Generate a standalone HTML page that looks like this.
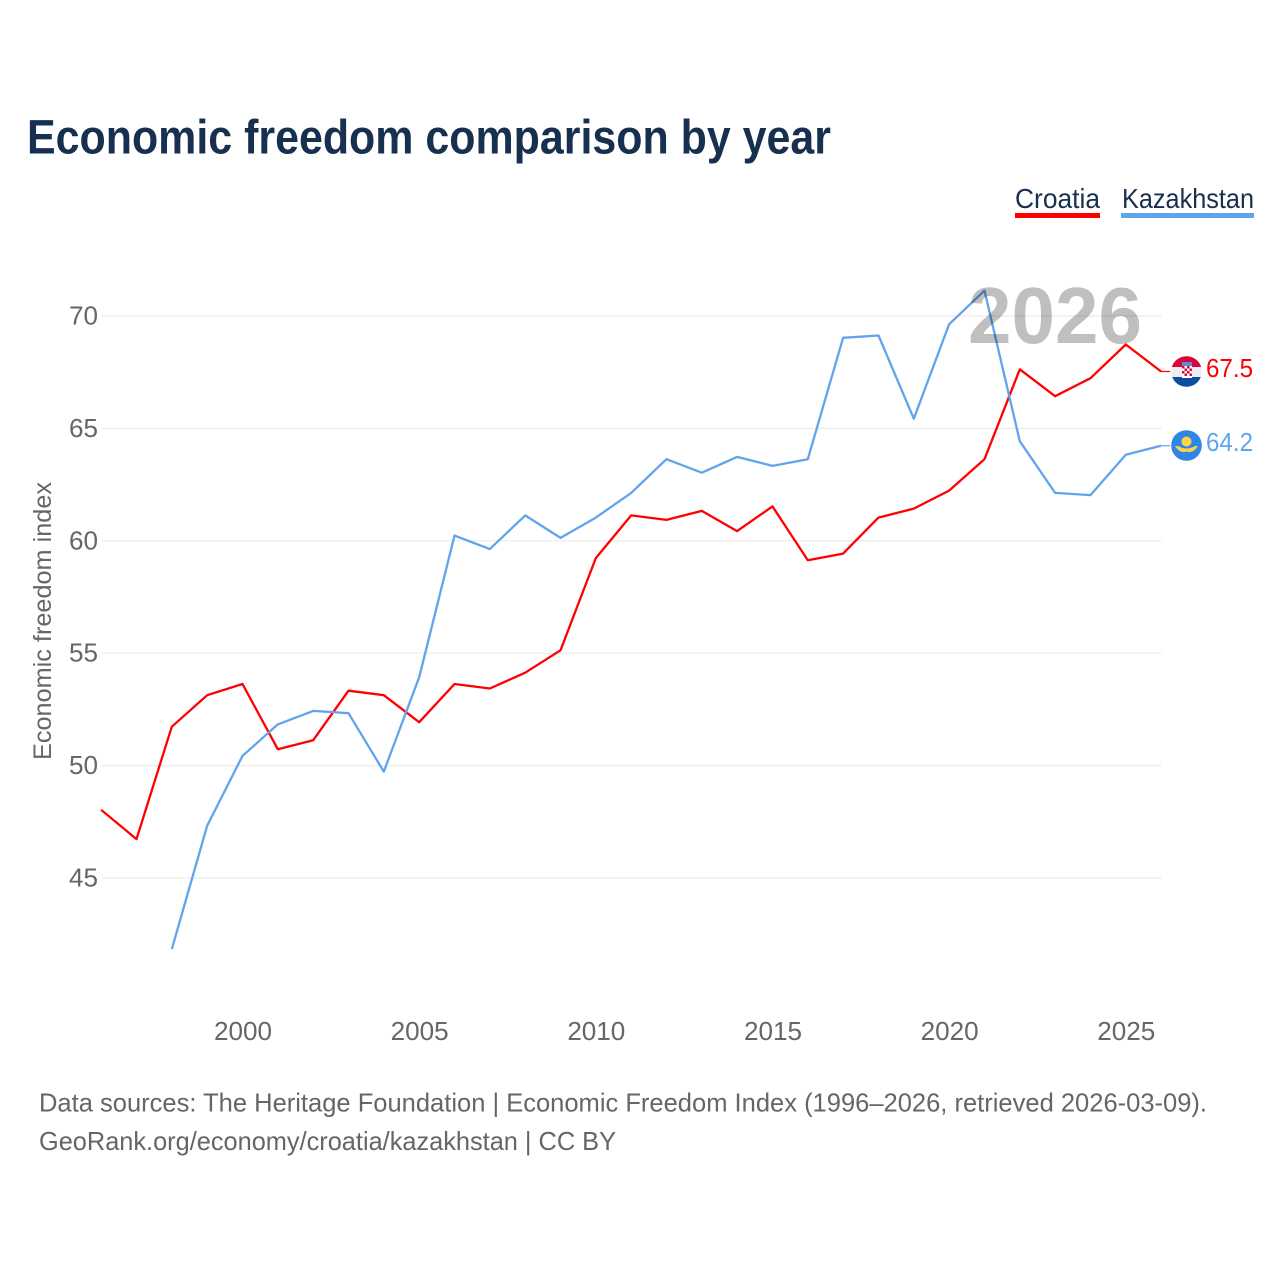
<!DOCTYPE html>
<html lang="en">
<head>
<meta charset="utf-8">
<title>Economic freedom comparison by year</title>
<style>
html,body{margin:0;padding:0;background:#fff;}
svg{display:block;}
text{font-family:"Liberation Sans",sans-serif;}
</style>
</head>
<body>
<svg id="chart" xmlns="http://www.w3.org/2000/svg" width="1280" height="1280" viewBox="0 0 1280 1280">
  <rect x="0" y="0" width="1280" height="1280" fill="#ffffff"/>
  <text x="27" y="153.5" font-size="48" font-weight="700" fill="#18304f" textLength="804" lengthAdjust="spacingAndGlyphs">Economic freedom comparison by year</text>

  <g>
    <text x="1015" y="208" font-size="28" fill="#18304f" textLength="85" lengthAdjust="spacingAndGlyphs">Croatia</text>
    <rect x="1015" y="213" width="85" height="5" fill="#ff0000"/>
  </g>
  <g>
    <text x="1122" y="208" font-size="28" fill="#18304f" textLength="132" lengthAdjust="spacingAndGlyphs">Kazakhstan</text>
    <rect x="1121" y="213" width="133" height="5" fill="#60a5ec"/>
  </g>

  <g id="grid"></g>
  <g id="yticks"></g>
  <g id="xticks"></g>
  <text transform="translate(51,621) rotate(-90)" text-anchor="middle" font-size="25" fill="#666666" textLength="278" lengthAdjust="spacingAndGlyphs">Economic freedom index</text>
  <g id="series" transform="translate(-0.5,-0.7)"></g>
  <text x="968" y="343" font-size="80" font-weight="700" fill="#000000" fill-opacity="0.25" textLength="174" lengthAdjust="spacingAndGlyphs">2026</text>

  <g>
    <clipPath id="clip-hr"><circle cx="1186.5" cy="371.5" r="15.3"/></clipPath>
    <g clip-path="url(#clip-hr)">
      <rect x="1171" y="356" width="31" height="11" fill="#d9043a"/>
      <rect x="1171" y="367" width="31" height="10" fill="#eeeeee"/>
      <rect x="1171" y="377" width="31" height="11" fill="#0b4ea2"/>
      <rect x="1182" y="366" width="10" height="12" fill="#ffffff"/>
      <rect x="1182" y="366" width="2.5" height="2.5" fill="#d9043a"/>
      <rect x="1187" y="366" width="2.5" height="2.5" fill="#d9043a"/>
      <rect x="1184.5" y="368.5" width="2.5" height="2.5" fill="#d9043a"/>
      <rect x="1189.5" y="368.5" width="2.5" height="2.5" fill="#d9043a"/>
      <rect x="1182" y="371" width="2.5" height="2.5" fill="#d9043a"/>
      <rect x="1187" y="371" width="2.5" height="2.5" fill="#d9043a"/>
      <rect x="1184.5" y="373.5" width="2.5" height="2.5" fill="#d9043a"/>
      <rect x="1189.5" y="373.5" width="2.5" height="2.5" fill="#d9043a"/>
      <rect x="1182" y="362" width="10" height="4" fill="#5b8fd0"/>
    </g>
  </g>
  <g>
    <circle cx="1186.5" cy="445.5" r="15.3" fill="#2f86e6"/>
    <circle cx="1186.5" cy="441.5" r="5" fill="#ffd24a"/>
    <path d="M1178 446 Q1186.5 451 1195 446 L1198 446 Q1193 454 1186.5 451.5 Q1180 454 1175 446 Z" fill="#ffd24a"/>
  </g>

  <text id="end-label-croatia" x="1206" y="377" font-size="26" fill="#ff0000" textLength="47" lengthAdjust="spacingAndGlyphs"></text>
  <text id="end-label-kazakhstan" x="1206" y="451" font-size="26" fill="#60a5ec" textLength="47" lengthAdjust="spacingAndGlyphs"></text>

  <text x="39" y="1111.5" font-size="26" fill="#666666" textLength="1168" lengthAdjust="spacingAndGlyphs">Data sources: The Heritage Foundation | Economic Freedom Index (1996–2026, retrieved 2026-03-09).</text>
  <text x="39" y="1150" font-size="26" fill="#666666" textLength="577" lengthAdjust="spacingAndGlyphs">GeoRank.org/economy/croatia/kazakhstan | CC BY</text>
</svg>
<script>
const years = [1996,1997,1998,1999,2000,2001,2002,2003,2004,2005,2006,2007,2008,2009,2010,2011,2012,2013,2014,2015,2016,2017,2018,2019,2020,2021,2022,2023,2024,2025,2026];
const croatia = [48.0,46.7,51.7,53.1,53.6,50.7,51.1,53.3,53.1,51.9,53.6,53.4,54.1,55.1,59.2,61.1,60.9,61.3,60.4,61.5,59.1,59.4,61.0,61.4,62.2,63.6,67.6,66.4,67.2,68.7,67.5];
const kazakhstan = [null,null,41.8,47.3,50.4,51.8,52.4,52.3,49.7,53.9,60.2,59.6,61.1,60.1,61.0,62.1,63.6,63.0,63.7,63.3,63.6,69.0,69.1,65.4,69.6,71.1,64.4,62.1,62.0,63.8,64.2];
const yTickValues = [45,50,55,60,65,70];
const xTickValues = [2000,2005,2010,2015,2020,2025];

const NS = 'http://www.w3.org/2000/svg';
function xScale(year){ return 243 + (year - 2000) * (1126.3 - 243) / 25; }
function yScale(value){ return 878 + (value - 45) * (316 - 878) / 25; }
function make(tag, parent){
  const el = document.createElementNS(NS, tag);
  parent.appendChild(el);
  return el;
}

const gridGroup = document.getElementById('grid');
const yTickGroup = document.getElementById('yticks');
const xTickGroup = document.getElementById('xticks');
const seriesGroup = document.getElementById('series');

yTickValues.forEach(function(v){
  const line = make('line', gridGroup);
  
  
  line.setAttribute('x1', 102);
  line.setAttribute('x2', xScale(2026));
  line.setAttribute('y1', yScale(v));
  line.setAttribute('y2', yScale(v));
  line.setAttribute('stroke', '#ebebeb');
  line.setAttribute('stroke-width', '1.2');
  const label = make('text', yTickGroup);
  
  
  label.setAttribute('x', 98);
  label.setAttribute('y', yScale(v) + 8.5);
  label.setAttribute('text-anchor', 'end');
  label.setAttribute('font-size', '26');
  label.setAttribute('fill', '#666666');
  label.setAttribute('textLength', '29');
  label.setAttribute('lengthAdjust', 'spacingAndGlyphs');
  label.textContent = v;
});

xTickValues.forEach(function(y){
  const label = make('text', xTickGroup);
  
  
  label.setAttribute('x', xScale(y));
  label.setAttribute('y', 1040);
  label.setAttribute('text-anchor', 'middle');
  label.setAttribute('font-size', '26');
  label.setAttribute('fill', '#666666');
  label.setAttribute('textLength', '58');
  label.setAttribute('lengthAdjust', 'spacingAndGlyphs');
  label.textContent = y;
});

function drawSeries(values, color, name){
  const pts = [];
  values.forEach(function(v, i){
    if (v !== null) pts.push(xScale(years[i]).toFixed(1) + ',' + yScale(v).toFixed(1));
  });
  const line = make('polyline', seriesGroup);
  
  
  line.setAttribute('points', pts.join(' '));
  line.setAttribute('fill', 'none');
  line.setAttribute('stroke', color);
  line.setAttribute('stroke-width', '2.3');
  line.setAttribute('stroke-linejoin', 'round');
  const last = values[values.length - 1];
  const connector = make('line', seriesGroup);
  
  
  connector.setAttribute('x1', xScale(2026));
  connector.setAttribute('x2', xScale(2026) + 9);
  connector.setAttribute('y1', yScale(last));
  connector.setAttribute('y2', yScale(last));
  connector.setAttribute('stroke', color);
  connector.setAttribute('stroke-width', '1.2');
}
drawSeries(croatia, '#ff0000', 'croatia');
drawSeries(kazakhstan, '#60a5ec', 'kazakhstan');

document.getElementById('end-label-croatia').textContent = croatia[croatia.length - 1].toFixed(1);
document.getElementById('end-label-kazakhstan').textContent = kazakhstan[kazakhstan.length - 1].toFixed(1);
</script>
</body>
</html>
